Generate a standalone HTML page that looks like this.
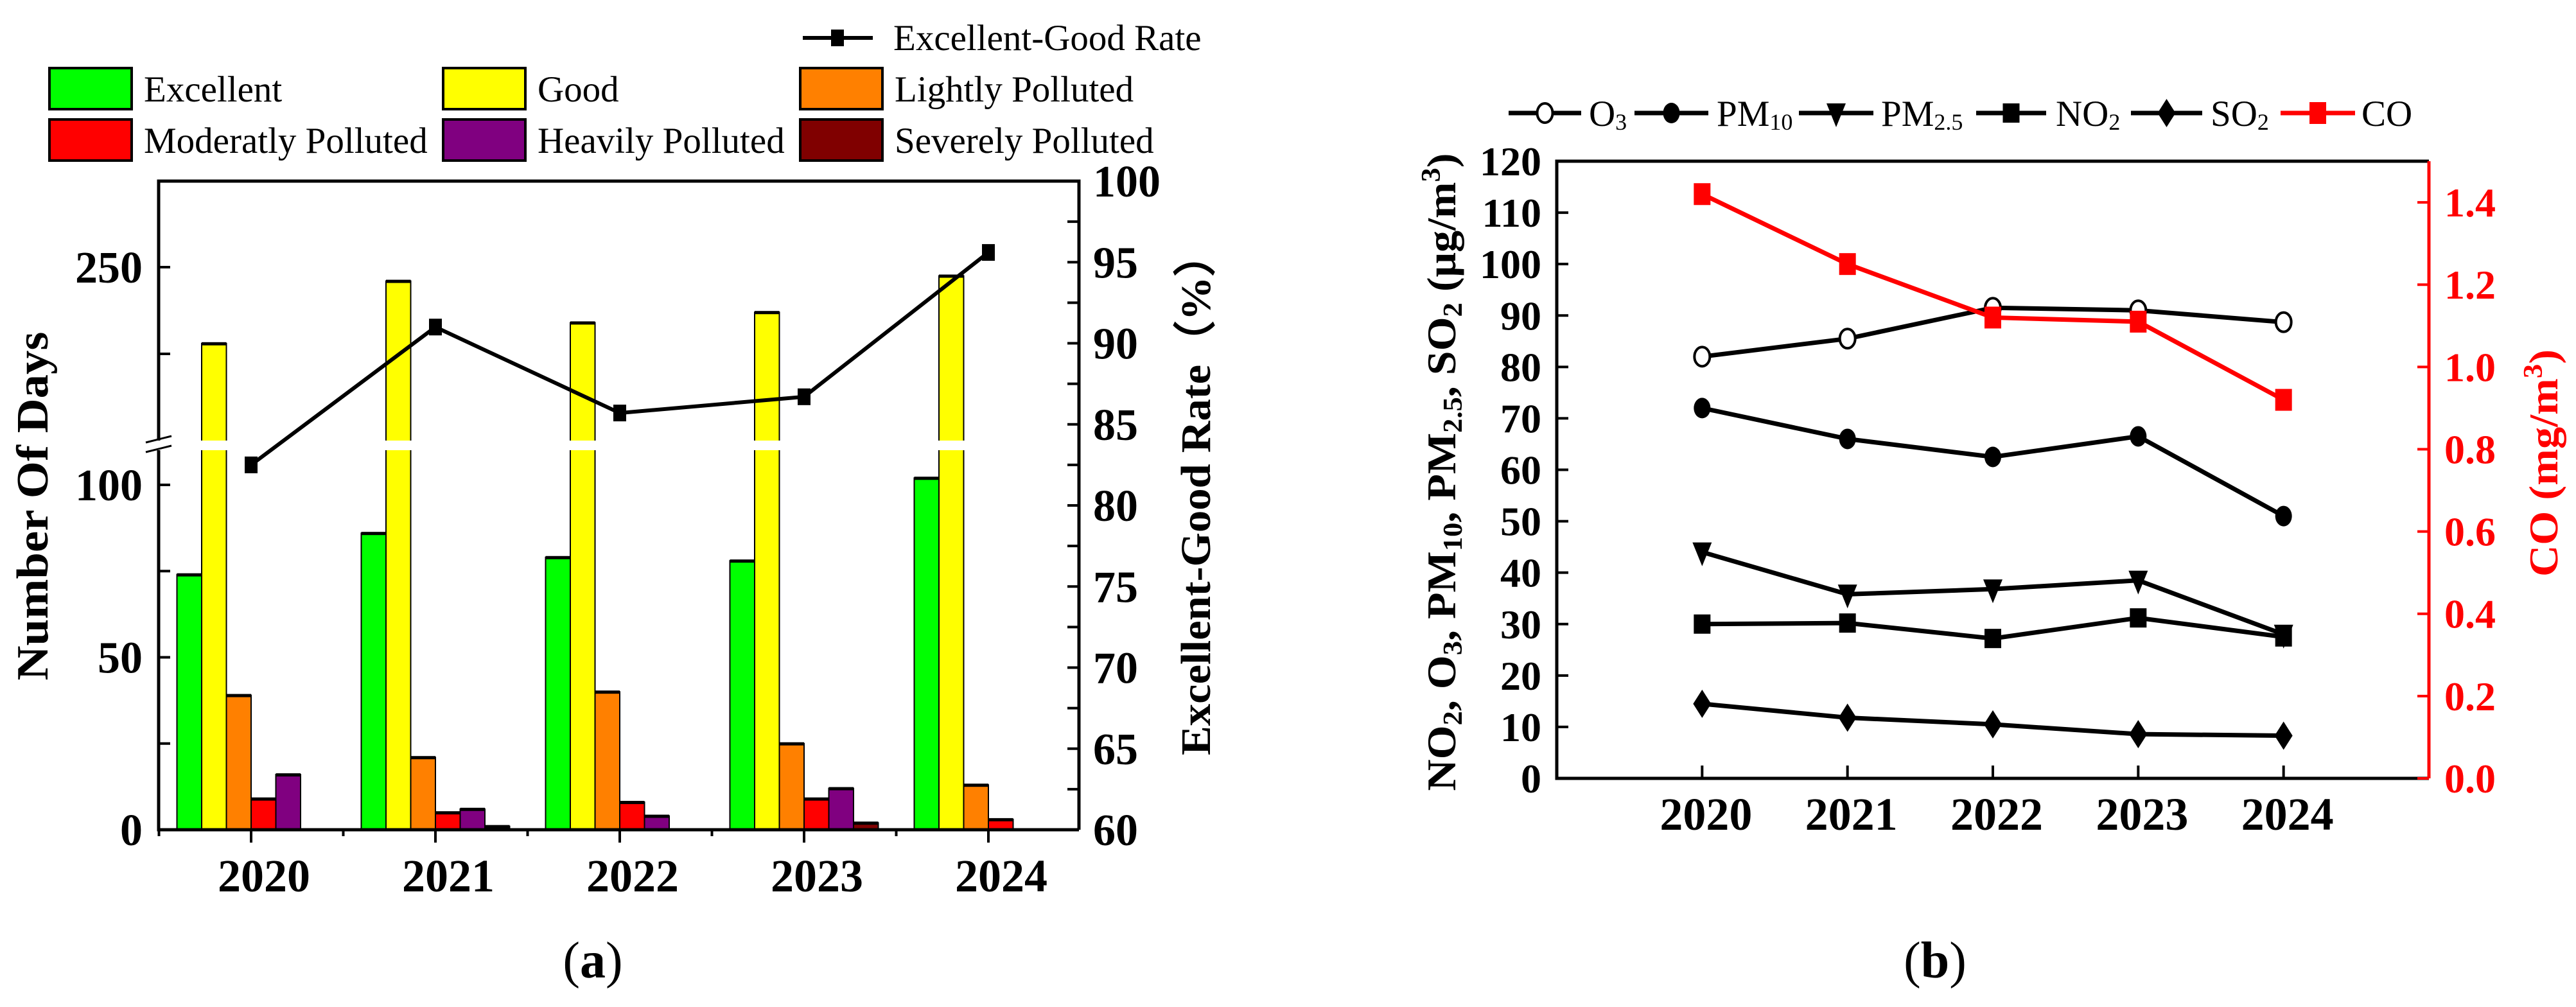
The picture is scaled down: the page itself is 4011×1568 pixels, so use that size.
<!DOCTYPE html>
<html><head><meta charset="utf-8"><style>
html,body{margin:0;padding:0;background:#fff;}
svg{display:block;}
svg text{font-family:"Liberation Serif","Times New Roman",serif;}
</style></head><body>
<svg id="fig" width="4011" height="1568" viewBox="0 0 4011 1568" xmlns="http://www.w3.org/2000/svg" font-family="Liberation Serif, serif">
<g id="chartA"></g>
<g id="chartB"></g>
</svg>
<script>
// ---------- Chart A data ----------
const yearsA = ["2020","2021","2022","2023","2024"];
const excellent = [74, 86, 79, 78, 102];
const good = [206, 242, 218, 224, 245];
const lightly = [39, 21, 40, 25, 13];
const moderately = [9, 5, 8, 9, 3];
const heavily = [16, 6, 4, 12, 0];
const severely = [0, 1, 0, 2, 0];
const rate = [82.5, 91.0, 85.7, 86.7, 95.6];
const leftTicksA = [0, 50, 100, 250];
const rightTicksA = [60, 65, 70, 75, 80, 85, 90, 95, 100];

// ---------- Chart B data ----------
const yearsB = [2020, 2021, 2022, 2023, 2024];
const o3 = [82, 85.5, 91.5, 91, 88.7];
const pm10 = [72, 66, 62.5, 66.5, 51];
const pm25 = [44, 35.8, 36.8, 38.5, 28];
const no2 = [30, 30.2, 27.2, 31.2, 27.5];
const so2 = [14.5, 11.8, 10.5, 8.6, 8.3];
const co = [1.42, 1.25, 1.12, 1.11, 0.92];
const leftTicksB = [0,10,20,30,40,50,60,70,80,90,100,110,120];
const rightTicksB = [0.0,0.2,0.4,0.6,0.8,1.0,1.2,1.4];

const NS = "http://www.w3.org/2000/svg";
function mk(parent, tag, attrs, text) {
  const e = document.createElementNS(NS, tag);
  for (const k in attrs) e.setAttribute(k, attrs[k]);
  if (tag === "text") e.setAttribute("font-family", "Liberation Serif, serif");
  if (text !== undefined) e.textContent = text;
  parent.appendChild(e);
  return e;
}

// ================= Chart A =================
const A = document.getElementById("chartA");
const aL = 247, aR = 1680, aT = 282, aB = 1292;
const breakTop = 686, breakBot = 701;
function yA(v) {
  if (v <= 111) return aB - v * 5.37;
  return 551 - (v - 200) * 2.7;
}
function yR(v) { return aB - (v - 60) * (aB - aT) / 40; }
const groupW = 287;
function xA(i) { return 391 + i * groupW; }
const barW = 38.5;
const seriesA = [excellent, good, lightly, moderately, heavily, severely];
const colorsA = ["#00ff00", "#ffff00", "#ff8000", "#ff0000", "#800080", "#800000"];
const namesA = ["excellent", "good", "lightly-polluted", "moderately-polluted", "heavily-polluted", "severely-polluted"];

seriesA.forEach((s, si) => {
  s.forEach((v, i) => {
    if (v <= 0) return;
    const x = xA(i) - 3 * barW + si * barW;
    const y = yA(v);
    const r = mk(A, "rect", {x: x, y: y, width: barW, height: aB - y, fill: colorsA[si], stroke: "#000", "stroke-width": 2});
    
    
    const t = mk(A, "rect", {x: x, y: y - 2, width: barW, height: 5, fill: "#000"});
    
    
  });
});
const gap = mk(A, "rect", {x: aL + 3, y: breakTop, width: aR - aL - 6, height: breakBot - breakTop, fill: "#fff"});



const fr = mk(A, "path", {d: `M${aL},${breakTop} L${aL},${aT} L${aR},${aT} L${aR},${aB} M${aL},${breakBot} L${aL},${aB} L${aR},${aB}`, fill: "none", stroke: "#000", "stroke-width": 5});


const br = mk(A, "path", {d: `M227,${breakTop+3} L267,${breakTop-7} M227,${breakBot+3} L267,${breakBot-7}`, stroke: "#000", "stroke-width": 3});



[0,25,50,75,100,200,250].forEach(v => {
  const y = yA(v);
  const tk = mk(A, "line", {x1: aL, x2: aL + 18, y1: y, y2: y, stroke: "#000", "stroke-width": 4});
  
  
});
leftTicksA.forEach(v => {
  const t = mk(A, "text", {x: 222, y: yA(v) + 24, "text-anchor": "end", "font-size": 70, "font-weight": "bold"}, String(v));
  
  
});
for (let v = 60; v <= 100; v += 2.5) {
  const y = yR(v);
  const tk = mk(A, "line", {x1: aR - 18, x2: aR, y1: y, y2: y, stroke: "#000", "stroke-width": 4});
  
  
}
rightTicksA.forEach(v => {
  const t = mk(A, "text", {x: 1702, y: yR(v) + 24, "font-size": 70, "font-weight": "bold"}, String(v));
  
  
});
yearsA.forEach((yr, i) => {
  const tk = mk(A, "line", {x1: xA(i), x2: xA(i), y1: aB, y2: aB + 20, stroke: "#000", "stroke-width": 4});
  
  
  const bx = xA(i) - groupW / 2;
  const tb = mk(A, "line", {x1: bx, x2: bx, y1: aB, y2: aB + 10, stroke: "#000", "stroke-width": 4});
  
  
  const t = mk(A, "text", {x: xA(i) + 20, y: 1388, "text-anchor": "middle", "font-size": 72, "font-weight": "bold"}, yr);
  
  
});
const pts = rate.map((v, i) => `${xA(i)},${yR(v)}`).join(" ");
const rl = mk(A, "polyline", {points: pts, fill: "none", stroke: "#000", "stroke-width": 6});


rate.forEach((v, i) => {
  const m = mk(A, "rect", {x: xA(i) - 10, y: yR(v) - 13, width: 20, height: 26, fill: "#000"});
  
  
});
const ta = mk(A, "text", {transform: "translate(74,788) rotate(-90)", "text-anchor": "middle", "font-size": 70, "font-weight": "bold", textLength: 543, lengthAdjust: "spacingAndGlyphs"}, "Number Of Days");


const tr = mk(A, "text", {transform: "translate(1884,769) rotate(-90)", "text-anchor": "middle", "font-size": 66, "font-weight": "bold", textLength: 814, lengthAdjust: "spacingAndGlyphs"}, "Excellent-Good Rate（%）");


const la = mk(A, "text", {x: 923, y: 1522, "text-anchor": "middle", "font-size": 80}, "");


mk(la, "tspan", {}, "(");
mk(la, "tspan", {"font-weight": "bold"}, "a");
mk(la, "tspan", {}, ")");

const legA = mk(A, "g", {});


const lgl = mk(legA, "line", {x1: 1250, x2: 1359, y1: 59, y2: 59, stroke: "#000", "stroke-width": 6});


const lgm = mk(legA, "rect", {x: 1294, y: 46, width: 20, height: 26, fill: "#000"});


const lgt = mk(legA, "text", {x: 1391, y: 78, "font-size": 57}, "Excellent-Good Rate");


const legLabels = ["Excellent", "Good", "Lightly Polluted", "Moderatly Polluted", "Heavily Polluted", "Severely Polluted"];
const legBoxX = [77, 690, 1246], legRowY = [106, 186];
legLabels.forEach((lab, k) => {
  const col = k % 3, row = Math.floor(k / 3);
  const bx = mk(legA, "rect", {x: legBoxX[col], y: legRowY[row], width: 128, height: 64, fill: colorsA[k], stroke: "#000", "stroke-width": 4});
  
  
  const t = mk(legA, "text", {x: legBoxX[col] + 147, y: legRowY[row] + 52, "font-size": 57}, lab);
  
  
});

// ================= Chart B =================
const B = document.getElementById("chartB");
const bL = 2424, bR = 3782, bT = 251, bB = 1212;
function xB(yr) { return bL + (yr - 2019) * (bR - bL) / 6; }
function yB(v) { return bB - v * (bB - bT) / 120; }
function yC(v) { return bB - v * (bB - bT) / 1.5; }

const frb = mk(B, "path", {d: `M${bR},${bT} L${bL},${bT} L${bL},${bB} L${bR},${bB}`, fill: "none", stroke: "#000", "stroke-width": 5});


const cax = mk(B, "line", {x1: bR, x2: bR, y1: bT, y2: bB, stroke: "#f00", "stroke-width": 5});



leftTicksB.forEach(v => {
  const y = yB(v);
  const tk = mk(B, "line", {x1: bL, x2: bL + 18, y1: y, y2: y, stroke: "#000", "stroke-width": 4});
  
  
  const t = mk(B, "text", {x: 2400, y: y + 22, "text-anchor": "end", "font-size": 64, "font-weight": "bold"}, String(v));
  
  
});
rightTicksB.forEach(v => {
  const y = yC(v);
  const tk = mk(B, "line", {x1: bR - 18, x2: bR, y1: y, y2: y, stroke: "#f00", "stroke-width": 4});
  
  
  const t = mk(B, "text", {x: 3806, y: y + 22, "font-size": 64, "font-weight": "bold", fill: "#f00"}, v.toFixed(1));
  
  
});
yearsB.forEach(yr => {
  const tk = mk(B, "line", {x1: xB(yr), x2: xB(yr), y1: bB - 20, y2: bB, stroke: "#000", "stroke-width": 4});
  
  
  const t = mk(B, "text", {x: xB(yr) + 6, y: 1292, "text-anchor": "middle", "font-size": 72, "font-weight": "bold"}, String(yr));
  
  
});

function marker(g, type, x, y, color) {
  let m;
  if (type === "circle-open") m = mk(g, "ellipse", {cx: x, cy: y, rx: 12, ry: 15, fill: "#fff", stroke: color, "stroke-width": 4});
  else if (type === "circle") m = mk(g, "ellipse", {cx: x, cy: y, rx: 13, ry: 16, fill: color});
  else if (type === "tri") m = mk(g, "polygon", {points: `${x-15},${y-15} ${x+15},${y-15} ${x},${y+22}`, fill: color});
  else if (type === "square") m = mk(g, "rect", {x: x - 13, y: y - 15, width: 26, height: 30, fill: color});
  else if (type === "diamond") m = mk(g, "polygon", {points: `${x},${y-22} ${x+14},${y} ${x},${y+22} ${x-14},${y}`, fill: color});
  else if (type === "square-red") m = mk(g, "rect", {x: x - 13, y: y - 17, width: 26, height: 34, fill: color});
  return m;
}
const seriesB = [
  {name: "o3", data: o3, type: "circle-open", color: "#000", scale: yB},
  {name: "pm10", data: pm10, type: "circle", color: "#000", scale: yB},
  {name: "pm25", data: pm25, type: "tri", color: "#000", scale: yB},
  {name: "no2", data: no2, type: "square", color: "#000", scale: yB},
  {name: "so2", data: so2, type: "diamond", color: "#000", scale: yB},
  {name: "co", data: co, type: "square-red", color: "#f00", scale: yC}
];
seriesB.forEach(s => {
  const g = mk(B, "g", {});
  
  
  const p = s.data.map((v, i) => `${xB(yearsB[i])},${s.scale(v)}`).join(" ");
  const ln = mk(g, "polyline", {points: p, fill: "none", stroke: s.color, "stroke-width": 7});
  
  
  s.data.forEach((v, i) => {
    const m = marker(g, s.type, xB(yearsB[i]), s.scale(v), s.color);
    
    
  });
});

const legB = mk(B, "g", {});


const legItems = [
  {x1: 2349, x2: 2462, tx: 2474, type: "circle-open", color: "#000", label: ["O", "3"]},
  {x1: 2545, x2: 2660, tx: 2673, type: "circle", color: "#000", label: ["PM", "10"]},
  {x1: 2801, x2: 2917, tx: 2929, type: "tri", color: "#000", label: ["PM", "2.5"]},
  {x1: 3077, x2: 3186, tx: 3201, type: "square", color: "#000", label: ["NO", "2"]},
  {x1: 3318, x2: 3429, tx: 3442, type: "diamond", color: "#000", label: ["SO", "2"]},
  {x1: 3551, x2: 3667, tx: 3677, type: "square-red", color: "#f00", label: ["CO", ""]}
];
legItems.forEach((it, k) => {
  const ln = mk(legB, "line", {x1: it.x1, x2: it.x2, y1: 176, y2: 176, stroke: it.color, "stroke-width": 7});
  
  
  const m = marker(legB, it.type, (it.x1 + it.x2) / 2, 176, it.color);
  
  
  const t = mk(legB, "text", {x: it.tx, y: 196, "font-size": 57}, "");
  
  
  mk(t, "tspan", {}, it.label[0]);
  if (it.label[1]) mk(t, "tspan", {"font-size": 36, dy: 6}, it.label[1]);
});

const tl = mk(B, "text", {transform: "translate(2266,735) rotate(-90)", "text-anchor": "middle", "font-size": 64, "font-weight": "bold", textLength: 993, lengthAdjust: "spacingAndGlyphs"}, "");


[["NO",0],["2",1],[", O",0],["3",1],[", PM",0],["10",1],[", PM",0],["2.5",1],[", SO",0],["2",1],[" (μg/m",0],["3",2],[")",0]].forEach(([s, sub], idx, arr) => {
  const prev = idx > 0 ? arr[idx-1][1] : 0;
  let dy = 0;
  if (sub === 1) dy = 10; else if (sub === 2) dy = -24;
  if (prev === 1) dy -= 10; else if (prev === 2) dy += 24;
  const a = {dy: dy};
  if (sub) a["font-size"] = 42;
  mk(tl, "tspan", a, s);
});
const tc = mk(B, "text", {transform: "translate(3982,721) rotate(-90)", "text-anchor": "middle", "font-size": 64, "font-weight": "bold", fill: "#f00", textLength: 354, lengthAdjust: "spacingAndGlyphs"}, "");


mk(tc, "tspan", {}, "CO (mg/m");
mk(tc, "tspan", {dy: -24, "font-size": 42}, "3");
mk(tc, "tspan", {dy: 24}, ")");
const lb = mk(B, "text", {x: 3013, y: 1522, "text-anchor": "middle", "font-size": 80}, "");


mk(lb, "tspan", {}, "(");
mk(lb, "tspan", {"font-weight": "bold"}, "b");
mk(lb, "tspan", {}, ")");
</script>
</body></html>
